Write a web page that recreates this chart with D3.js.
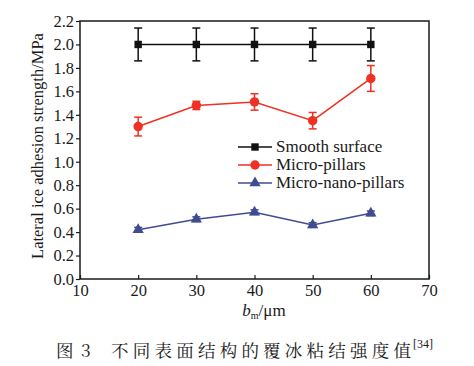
<!DOCTYPE html>
<html><head><meta charset="utf-8">
<script src="https://cdn.jsdelivr.net/npm/d3@7"></script>
<style>
body{margin:0;background:#fff;}
svg{display:block;}
</style></head>
<body><svg id="c" width="474" height="366"></svg>
<script>
const xValues = [20, 30, 40, 50, 60];
const smooth = [2.00, 2.00, 2.00, 2.00, 2.00];
const smoothErr = [0.14, 0.14, 0.14, 0.14, 0.14];
const micro = [1.30, 1.48, 1.51, 1.35, 1.71];
const microErr = [0.08, 0.035, 0.07, 0.07, 0.11];
const nano = [0.42, 0.51, 0.57, 0.46, 0.56];
const nanoErr = [0.02, 0.02, 0.02, 0.02, 0.02];
const xTicks = [10, 20, 30, 40, 50, 60, 70];
const yTicks = [0.0, 0.2, 0.4, 0.6, 0.8, 1.0, 1.2, 1.4, 1.6, 1.8, 2.0, 2.2];
const seriesNames = ["Smooth surface", "Micro-pillars", "Micro-nano-pillars"];
const colors = ["#111111", "#ee3124", "#3f4c91"];

const SERIF = '"Liberation Serif"';
const CJK = '"Noto Serif CJK SC"';
const svg = d3.select("#c");
const L = 80, R = 429, T = 21, B = 279;
const x = d3.scaleLinear().domain([10, 70]).range([L, R]);
const y = d3.scaleLinear().domain([0, 2.2]).range([B, T]);

function txt(sel, size, fam) {
  return sel.style("font-family", fam || SERIF).style("font-size", size + "px").style("fill", "#1a1a1a");
}

// frame
svg.append("rect").attr("x", L).attr("y", T).attr("width", R - L).attr("height", B - T)
  .attr("fill", "none").attr("stroke", "#1a1a1a").attr("stroke-width", 1.5);

// y axis
const ya = svg.append("g").attr("transform", `translate(${L},0)`)
  .call(d3.axisLeft(y).tickValues(yTicks).tickFormat(d3.format(".1f")).tickSize(4).tickPadding(2));
ya.select(".domain").remove();
ya.selectAll("line").attr("stroke", "#1a1a1a").attr("stroke-width", 1.2);
txt(ya.selectAll("text"), 16.5);

// x axis
const xa = svg.append("g").attr("transform", `translate(0,${B})`)
  .call(d3.axisBottom(x).tickValues(xTicks).tickFormat(d3.format("d")).tickSize(-4).tickPadding(5));
xa.select(".domain").remove();
xa.selectAll("line").attr("stroke", "#1a1a1a").attr("stroke-width", 1.2);
txt(xa.selectAll("text"), 16.5);

// axis labels
txt(svg.append("text").attr("transform", `translate(43,146) rotate(-90)`)
  .attr("text-anchor", "middle"), 16.5).text("Lateral ice adhesion strength/MPa");
const xl = txt(svg.append("text").attr("x", 264).attr("y", 316).attr("text-anchor", "middle"), 17);
xl.append("tspan").style("font-style", "italic").text("b");
xl.append("tspan").style("font-size", "10px").attr("dy", 3).text("m");
xl.append("tspan").attr("dy", -3).text("/μm");

// series
const allSeries = [
  {vals: smooth, err: smoothErr, shape: d3.symbolSquare, size: 55},
  {vals: micro, err: microErr, shape: d3.symbolCircle, size: 70},
  {vals: nano, err: nanoErr, shape: d3.symbolTriangle, size: 55}
];
const line = d3.line().x(d => x(d[0])).y(d => y(d[1]));
allSeries.forEach((s, i) => {
  const c = colors[i];
  const pts = xValues.map((xv, j) => [xv, s.vals[j], s.err[j]]);
  const g = svg.append("g");
  g.append("path").datum(pts).attr("d", line).attr("fill", "none").attr("stroke", c).attr("stroke-width", 1.5);
  pts.forEach(p => {
    const cx = x(p[0]);
    const y1 = y(p[1] + p[2]), y2 = y(p[1] - p[2]);
    g.append("line").attr("x1", cx).attr("x2", cx).attr("y1", y1).attr("y2", y2).attr("stroke", c).attr("stroke-width", 1.5);
    [y1, y2].forEach(yy => g.append("line").attr("x1", cx - 4).attr("x2", cx + 4).attr("y1", yy).attr("y2", yy)
      .attr("stroke", c).attr("stroke-width", 1.5));
    g.append("path").attr("d", d3.symbol().type(s.shape).size(s.size)())
      .attr("transform", `translate(${cx},${y(p[1])})`).attr("fill", c);
  });
});

// legend
const legY = [147, 165, 183];
seriesNames.forEach((n, i) => {
  const g = svg.append("g");
  g.append("line").attr("x1", 238).attr("x2", 272).attr("y1", legY[i]).attr("y2", legY[i])
    .attr("stroke", colors[i]).attr("stroke-width", 1.5);
  g.append("path").attr("d", d3.symbol().type(allSeries[i].shape).size(allSeries[i].size)())
    .attr("transform", `translate(255,${legY[i]})`).attr("fill", colors[i]);
  txt(g.append("text").attr("x", 276).attr("y", legY[i] + 5), 17).text(n);
});

// caption
const cap1 = txt(svg.append("text").attr("x", 56).attr("y", 357), 17.5, CJK);
cap1.append("tspan").text("图");
cap1.append("tspan").attr("x", 81).text("3");
txt(svg.append("text").attr("x", 111).attr("y", 357).attr("textLength", 300).attr("lengthAdjust", "spacing"), 17.5, CJK)
  .text("不同表面结构的覆冰粘结强度值");
txt(svg.append("text").attr("x", 413).attr("y", 348), 12).text("[34]");
</script></body></html>
